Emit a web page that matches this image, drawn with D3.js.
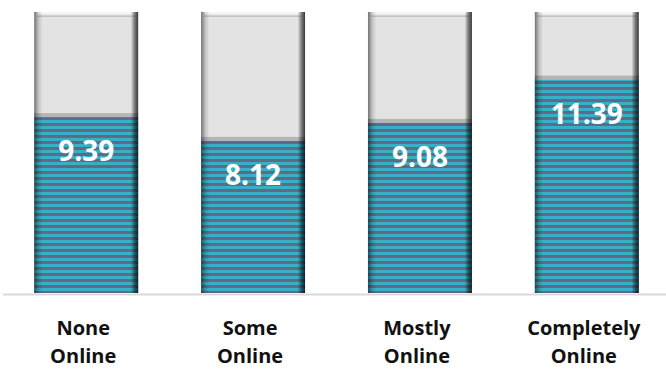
<!DOCTYPE html>
<html>
<head>
<meta charset="utf-8">
<script src="https://cdn.jsdelivr.net/npm/d3@7"></script>
<style>
  html, body { margin: 0; padding: 0; background: #fff; }
  svg { display: block; }
</style>
</head>
<body>
<div class="chart"></div>
<script>
// data
const categories = [["None", "Online"], ["Some", "Online"], ["Mostly", "Online"], ["Completely", "Online"]];
const values = [9.39, 8.12, 9.08, 11.39];
const maxValue = 15;

const wdth = 666;
const hght = 369;
const baseline = 293;
const plotTop = 12;

const svg = d3.select(".chart")
  .append("svg")
  .attr("width", wdth)
  .attr("height", hght);

const x = d3.scaleBand()
  .domain(d3.range(categories.length))
  .range([2.5, 670.5])
  .paddingInner(0.377)
  .paddingOuter(0.19);

const y = d3.scaleLinear()
  .domain([0, maxValue])
  .range([baseline, plotTop]);

const defs = svg.append("defs");

// horizontal stripes for the value bars
const pat = defs.append("pattern")
  .attr("id", "stripes")
  .attr("patternUnits", "userSpaceOnUse")
  .attr("width", 10)
  .attr("height", 6);
pat.append("rect").attr("width", 10).attr("height", 6).attr("fill", "#5d6b89");
pat.append("rect").attr("width", 10).attr("height", 3).attr("fill", "#37b0c6");

// side bevel
const side = defs.append("linearGradient").attr("id", "side");
[[0, 0.5], [0.04, 0.15], [0.08, 0], [0.93, 0], [0.965, 0.45], [1, 0.75]].forEach(s => {
  side.append("stop").attr("offset", s[0]).attr("stop-color", "#000").attr("stop-opacity", s[1]);
});

// top bevel on the grey part
const topG = defs.append("linearGradient").attr("id", "topBevel")
  .attr("x1", 0).attr("x2", 0).attr("y1", 0).attr("y2", 1);
[[0, "#fff", 0.9], [0.5, "#fff", 0.3], [1, "#000", 0.15]].forEach(s => {
  topG.append("stop").attr("offset", s[0]).attr("stop-color", s[1]).attr("stop-opacity", s[2]);
});

const g = svg.append("g");

// grey full-height bars
g.selectAll("rect.bg")
  .data(values)
  .enter()
  .append("rect")
  .attr("class", "bg")
  .attr("x", (d, i) => x(i))
  .attr("width", x.bandwidth())
  .attr("y", y(maxValue))
  .attr("height", y(0) - y(maxValue))
  .attr("fill", "#e3e3e3");

g.selectAll("rect.topbev")
  .data(values)
  .enter()
  .append("rect")
  .attr("class", "topbev")
  .attr("x", (d, i) => x(i) + 3)
  .attr("width", x.bandwidth() - 6)
  .attr("y", y(maxValue))
  .attr("height", 5)
  .attr("fill", "url(#topBevel)");

// shadow line at bottom of grey part
g.selectAll("rect.gbot")
  .data(values)
  .enter()
  .append("rect")
  .attr("class", "gbot")
  .attr("x", (d, i) => x(i))
  .attr("width", x.bandwidth())
  .attr("y", d => y(d) - 4)
  .attr("height", 4)
  .attr("fill", "#b5b5b5");

// striped value bars
g.selectAll("rect.val")
  .data(values)
  .enter()
  .append("rect")
  .attr("class", "val")
  .attr("x", (d, i) => x(i))
  .attr("width", x.bandwidth())
  .attr("y", d => y(d))
  .attr("height", d => y(0) - y(d))
  .attr("fill", "url(#stripes)");

// bevel overlay
g.selectAll("rect.bev")
  .data(values)
  .enter()
  .append("rect")
  .attr("class", "bev")
  .attr("x", (d, i) => x(i))
  .attr("width", x.bandwidth())
  .attr("y", y(maxValue))
  .attr("height", y(0) - y(maxValue))
  .attr("fill", "url(#side)");

// axis line
svg.append("line")
  .attr("x1", 3).attr("x2", wdth)
  .attr("y1", baseline + 1.5).attr("y2", baseline + 1.5)
  .attr("stroke", "#d9d9d9")
  .attr("stroke-width", 2);

// value labels
g.selectAll("text.value")
  .data(values)
  .enter()
  .append("text")
  .attr("class", "value")
  .attr("x", (d, i) => x(i) + x.bandwidth() / 2)
  .attr("y", d => y(d) + 44)
  .attr("text-anchor", "middle")
  .attr("fill", "#fff")
  .style("font-family", "'Open Sans', sans-serif")
  .style("font-weight", "bold")
  .style("font-size", "28px")
  .text(d => d3.format(".2f")(d));

// category labels
const labels = svg.selectAll("text.cat")
  .data(categories)
  .enter()
  .append("text")
  .attr("class", "cat")
  .attr("text-anchor", "middle")
  .attr("fill", "#111")
  .style("font-family", "'Open Sans', sans-serif")
  .style("font-weight", "bold")
  .style("font-size", "20px");

labels.selectAll("tspan")
  .data((d, i) => d.map(t => ({ t: t, i: i })))
  .enter()
  .append("tspan")
  .attr("x", d => x(d.i) + x.bandwidth() / 2 - 3)
  .attr("y", (d, j) => 335 + j * 28)
  .text(d => d.t);
</script>
</body>
</html>
